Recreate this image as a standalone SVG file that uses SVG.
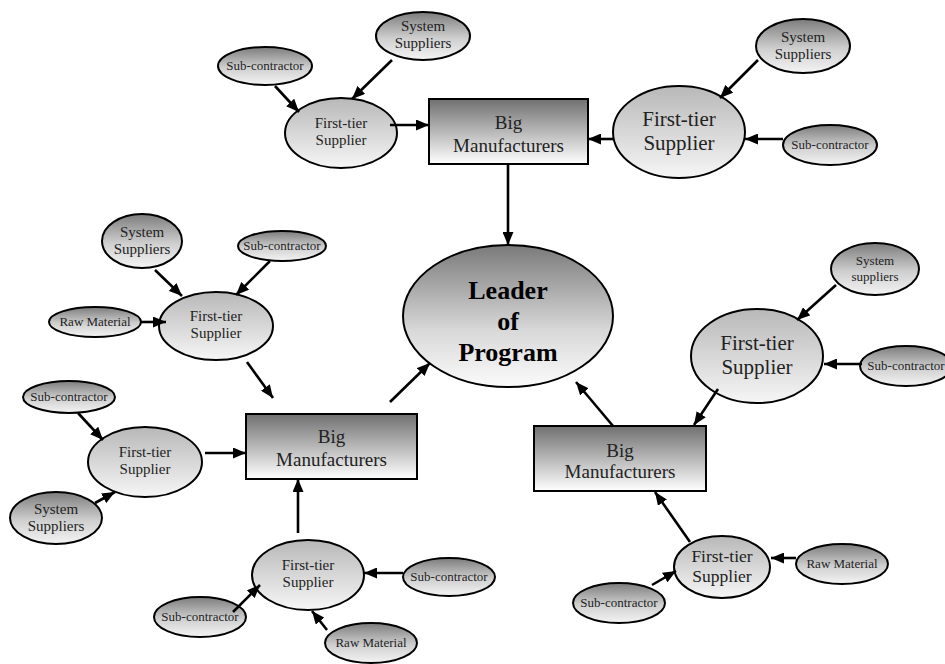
<svg xmlns="http://www.w3.org/2000/svg" width="945" height="664" viewBox="0 0 945 664" font-family="'Liberation Serif', 'DejaVu Serif', serif">
<defs>
<linearGradient id="gSmall" x1="0" y1="0" x2="0" y2="1"><stop offset="0" stop-color="#7c7c7c"/><stop offset="0.55" stop-color="#cfcfcf"/><stop offset="1" stop-color="#f4f4f4"/></linearGradient>
<linearGradient id="gTier" x1="0" y1="0" x2="0" y2="1"><stop offset="0" stop-color="#b8b8b8"/><stop offset="1" stop-color="#f6f6f6"/></linearGradient>
<linearGradient id="gBox" x1="0" y1="0" x2="0" y2="1"><stop offset="0" stop-color="#707070"/><stop offset="1" stop-color="#ffffff"/></linearGradient>
<linearGradient id="gLead" x1="0" y1="0" x2="0" y2="1"><stop offset="0" stop-color="#7a7a7a"/><stop offset="0.6" stop-color="#d8d8d8"/><stop offset="1" stop-color="#fbfbfb"/></linearGradient>
<marker id="ah" markerUnits="userSpaceOnUse" markerWidth="13" markerHeight="11" refX="13" refY="5.5" orient="auto"><path d="M0,0 L13,5.5 L0,11 z" fill="#000"/></marker>
</defs>
<style>
.sm{fill:url(#gSmall);stroke:#000;stroke-width:2}
.ft{fill:url(#gTier);stroke:#000;stroke-width:2}
.bx{fill:url(#gBox);stroke:#000;stroke-width:2}
.ld{fill:url(#gLead);stroke:#000;stroke-width:2}
text{font-family:'Liberation Serif','DejaVu Serif',serif;fill:#222;text-anchor:middle}
.t13{font-size:13px}
.t15{font-size:15px}
.t17{font-size:17.5px}
.t19{font-size:19px}
.t21{font-size:21px}
.tl{font-size:26px;font-weight:bold;fill:#000}
.c line{stroke:#000;stroke-width:2.6;marker-end:url(#ah)}
</style>
<rect width="945" height="664" fill="#fff"/>

<g id="top-subc"><ellipse class="sm" cx="265" cy="66" rx="47" ry="19"/><text class="t13" x="265" y="70">Sub-contractor</text></g>
<g id="top-sys"><ellipse class="sm" cx="423" cy="36" rx="47" ry="24"/><text class="t15" x="423" y="31">System</text><text class="t15" x="423" y="48">Suppliers</text></g>
<g id="top-ft"><ellipse class="ft" cx="341" cy="133" rx="56" ry="35"/><text class="t15" x="341" y="128">First-tier</text><text class="t15" x="341" y="145">Supplier</text></g>
<g id="top-bm"><rect class="bx" x="429" y="99" width="159" height="65"/><text class="t19" x="508.5" y="129">Big</text><text class="t19" x="508.5" y="152">Manufacturers</text></g>
<g id="tr-ft"><ellipse class="ft" cx="679" cy="132" rx="66" ry="46"/><text class="t21" x="679" y="126">First-tier</text><text class="t21" x="679" y="150">Supplier</text></g>
<g id="tr-sys"><ellipse class="sm" cx="803" cy="46" rx="47" ry="27"/><text class="t15" x="803" y="42">System</text><text class="t15" x="803" y="59">Suppliers</text></g>
<g id="tr-subc"><ellipse class="sm" cx="830" cy="145" rx="47" ry="20"/><text class="t13" x="830" y="149">Sub-contractor</text></g>

<g id="leader"><ellipse class="ld" cx="508" cy="316" rx="105" ry="71"/><text class="tl" x="508" y="299">Leader</text><text class="tl" x="508" y="330">of</text><text class="tl" x="508" y="361">Program</text></g>

<g id="l-sys"><ellipse class="sm" cx="142" cy="241" rx="40" ry="27"/><text class="t15" x="142" y="237">System</text><text class="t15" x="142" y="254">Suppliers</text></g>
<g id="l-subc"><ellipse class="sm" cx="282" cy="246" rx="44" ry="15"/><text class="t13" x="282" y="250">Sub-contractor</text></g>
<g id="l-raw"><ellipse class="sm" cx="95" cy="322" rx="46" ry="15"/><text class="t13" x="95" y="326">Raw Material</text></g>
<g id="l-ft"><ellipse class="ft" cx="216" cy="326" rx="57" ry="34"/><text class="t15" x="216" y="321">First-tier</text><text class="t15" x="216" y="338">Supplier</text></g>

<g id="ll-subc"><ellipse class="sm" cx="69" cy="397" rx="46" ry="16"/><text class="t13" x="69" y="401">Sub-contractor</text></g>
<g id="ll-ft"><ellipse class="ft" cx="145" cy="462" rx="57" ry="35"/><text class="t15" x="145" y="457">First-tier</text><text class="t15" x="145" y="474">Supplier</text></g>
<g id="ll-sys"><ellipse class="sm" cx="56" cy="518" rx="46" ry="26"/><text class="t15" x="56" y="514">System</text><text class="t15" x="56" y="531">Suppliers</text></g>
<g id="l-bm"><rect class="bx" x="246" y="414" width="171" height="65"/><text class="t19" x="331.5" y="443">Big</text><text class="t19" x="331.5" y="466">Manufacturers</text></g>

<g id="b-ft"><ellipse class="ft" cx="308" cy="575" rx="56" ry="35"/><text class="t15" x="308" y="570">First-tier</text><text class="t15" x="308" y="587">Supplier</text></g>
<g id="b-subc1"><ellipse class="sm" cx="449" cy="577" rx="46" ry="19"/><text class="t13" x="449" y="581">Sub-contractor</text></g>
<g id="b-subc2"><ellipse class="sm" cx="200" cy="617" rx="46" ry="20"/><text class="t13" x="200" y="621">Sub-contractor</text></g>
<g id="b-raw"><ellipse class="sm" cx="371" cy="643" rx="46" ry="20"/><text class="t13" x="371" y="647">Raw Material</text></g>

<g id="r-sys"><ellipse class="sm" cx="875" cy="269" rx="44" ry="26"/><text class="t13" x="875" y="265">System</text><text class="t13" x="875" y="281">suppliers</text></g>
<g id="r-ft"><ellipse class="ft" cx="757" cy="356" rx="66" ry="47"/><text class="t21" x="757" y="350">First-tier</text><text class="t21" x="757" y="374">Supplier</text></g>
<g id="r-subc"><ellipse class="sm" cx="906" cy="366" rx="46" ry="20"/><text class="t13" x="906" y="370">Sub-contractor</text></g>
<g id="r-bm"><rect class="bx" x="534" y="426" width="172" height="65"/><text class="t19" x="620" y="457">Big</text><text class="t19" x="620" y="478">Manufacturers</text></g>

<g id="br-ft"><ellipse class="ft" cx="722" cy="567" rx="48" ry="31"/><text class="t17" x="722" y="562">First-tier</text><text class="t17" x="722" y="582">Supplier</text></g>
<g id="br-raw"><ellipse class="sm" cx="842" cy="564" rx="46" ry="20"/><text class="t13" x="842" y="568">Raw Material</text></g>
<g id="br-subc"><ellipse class="sm" cx="619" cy="603" rx="46" ry="20"/><text class="t13" x="619" y="607">Sub-contractor</text></g>

<g id="connectors" class="c">
<line x1="275" y1="86" x2="299" y2="112"/>
<line x1="392" y1="60" x2="352" y2="99"/>
<line x1="390" y1="125" x2="429" y2="125"/>
<line x1="508" y1="164" x2="508" y2="245"/>
<line x1="758" y1="60" x2="720" y2="98"/>
<line x1="783" y1="139" x2="745" y2="139"/>
<line x1="613" y1="139" x2="588" y2="139"/>
<line x1="155" y1="270" x2="182" y2="296"/>
<line x1="270" y1="261" x2="236" y2="295"/>
<line x1="141" y1="322" x2="166" y2="322"/>
<line x1="247" y1="362" x2="273" y2="398"/>
<line x1="78" y1="413" x2="103" y2="440"/>
<line x1="95" y1="503" x2="115" y2="492"/>
<line x1="205" y1="453" x2="246" y2="453"/>
<line x1="390" y1="402" x2="430" y2="363"/>
<line x1="298" y1="533" x2="298" y2="479"/>
<line x1="403" y1="573" x2="364" y2="573"/>
<line x1="233" y1="612" x2="260" y2="585"/>
<line x1="327" y1="630" x2="312" y2="611"/>
<line x1="836" y1="285" x2="797" y2="320"/>
<line x1="862" y1="364" x2="824" y2="364"/>
<line x1="718" y1="389" x2="694" y2="425"/>
<line x1="613" y1="426" x2="576" y2="382"/>
<line x1="690" y1="542" x2="655" y2="492"/>
<line x1="796" y1="558" x2="771" y2="558"/>
<line x1="652" y1="585" x2="676" y2="571"/>
</g>
</svg>
